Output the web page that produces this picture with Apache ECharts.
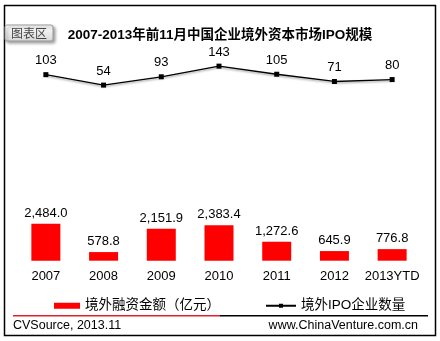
<!DOCTYPE html>
<html>
<head>
<meta charset="utf-8">
<script src="https://cdn.jsdelivr.net/npm/echarts@6/dist/echarts.min.js"></script>
<style>
html,body{margin:0;padding:0;background:#fff;}
#chart{width:440px;height:341px;}
</style>
</head>
<body>
<div id="chart"></div>
<script>
var categories = ['2007', '2008', '2009', '2010', '2011', '2012', '2013YTD'];
var amountValues = [2484.0, 578.8, 2151.9, 2383.4, 1272.6, 645.9, 776.8];
var countValues = [103, 54, 93, 143, 105, 71, 80];
var titleText = '2007-2013年前11月中国企业境外资本市场IPO规模';
var barName = '境外融资金额（亿元）';
var lineName = '境外IPO企业数量';

var FONT = '"Liberation Sans", Arial, "Noto Sans CJK SC", sans-serif';

var chart = echarts.init(document.getElementById('chart'), null, {renderer: 'canvas'});

function fmt(v) {
  return Number(v).toLocaleString('en-US', {minimumFractionDigits: 1, maximumFractionDigits: 1});
}

var option = {
  backgroundColor: '#ffffff',
  animation: false,
  title: {
    text: titleText,
    left: 'center',
    top: 24,
    textStyle: {fontFamily: FONT, fontSize: 13.5, fontWeight: 'bold', color: '#000'}
  },
  legend: [
    {
      data: [barName],
      left: 49,
      top: 294,
      icon: 'rect',
      itemWidth: 26,
      itemHeight: 6,
      textStyle: {fontFamily: FONT, fontSize: 13.5, color: '#000'}
    },
    {
      data: [{name: lineName, itemStyle: {color: '#000'}}],
      left: 260,
      top: 294,
      itemWidth: 30,
      itemHeight: 5,
      textStyle: {fontFamily: FONT, fontSize: 13.5, color: '#000'}
    }
  ],
  grid: [
    {left: 17, width: 404, top: 54, height: 42.6},
    {left: 17, width: 404, top: 216, height: 44.7}
  ],
  xAxis: [
    {type: 'category', gridIndex: 0, data: categories, show: false},
    {
      type: 'category', gridIndex: 1, data: categories,
      axisLine: {show: false}, axisTick: {show: false},
      axisLabel: {interval: 0, fontFamily: FONT, fontSize: 13, color: '#000', margin: 9}
    }
  ],
  yAxis: [
    {type: 'value', gridIndex: 0, min: 0, max: 200, show: false},
    {type: 'value', gridIndex: 1, min: 0, max: 3000, show: false}
  ],
  series: [
    {
      name: barName,
      type: 'bar',
      xAxisIndex: 1,
      yAxisIndex: 1,
      data: amountValues,
      barWidth: 29,
      itemStyle: {color: '#ff0000'},
      label: {
        show: true, position: 'top', distance: 4,
        fontFamily: FONT, fontSize: 13, color: '#000',
        formatter: function (p) { return fmt(p.value); }
      }
    },
    {
      name: lineName,
      type: 'line',
      xAxisIndex: 0,
      yAxisIndex: 0,
      data: countValues,
      symbol: 'rect',
      symbolSize: 5,
      itemStyle: {color: '#000'},
      lineStyle: {color: '#000', width: 1.3, shadowBlur: 2, shadowColor: 'rgba(0,0,0,0.35)', shadowOffsetY: 1.5},
      label: {
        show: true, position: 'top', distance: 5,
        fontFamily: FONT, fontSize: 13, color: '#000'
      }
    }
  ],
  graphic: [
    {
      type: 'rect', silent: true,
      shape: {x: 4.5, y: 5.5, width: 431, height: 330},
      style: {fill: 'none', stroke: '#000', lineWidth: 1.5}
    },
    {
      type: 'rect', silent: true,
      shape: {x: 5, y: 25, width: 48, height: 16, r: 2},
      style: {
        fill: new echarts.graphic.LinearGradient(0, 0, 0, 1, [
          {offset: 0, color: '#ffffff'}, {offset: 1, color: '#d8d8d8'}
        ]),
        stroke: '#9a9a9a', lineWidth: 1,
        shadowBlur: 3, shadowColor: 'rgba(0,0,0,0.35)', shadowOffsetX: 2, shadowOffsetY: 2
      }
    },
    {
      type: 'text', silent: true,
      style: {x: 29, y: 33, text: '图表区', align: 'center', verticalAlign: 'middle',
        fill: '#444', font: '12px "Noto Sans CJK SC", sans-serif'}
    },
    {
      type: 'rect', silent: true,
      shape: {x: 13, y: 315, width: 207, height: 1.6},
      style: {fill: '#e0232b'}
    },
    {
      type: 'rect', silent: true,
      shape: {x: 220, y: 315, width: 208, height: 1.6},
      style: {fill: '#000'}
    },
    {
      type: 'text', silent: true,
      style: {x: 13, y: 326, text: 'CVSource, 2013.11', align: 'left', verticalAlign: 'middle',
        fill: '#000', font: '12.5px "Liberation Sans", Arial, sans-serif'}
    },
    {
      type: 'text', silent: true,
      style: {x: 418, y: 326, text: 'www.ChinaVenture.com.cn', align: 'right', verticalAlign: 'middle',
        fill: '#000', font: '12.5px "Liberation Sans", Arial, sans-serif'}
    }
  ]
};

chart.setOption(option);
</script>
</body>
</html>
